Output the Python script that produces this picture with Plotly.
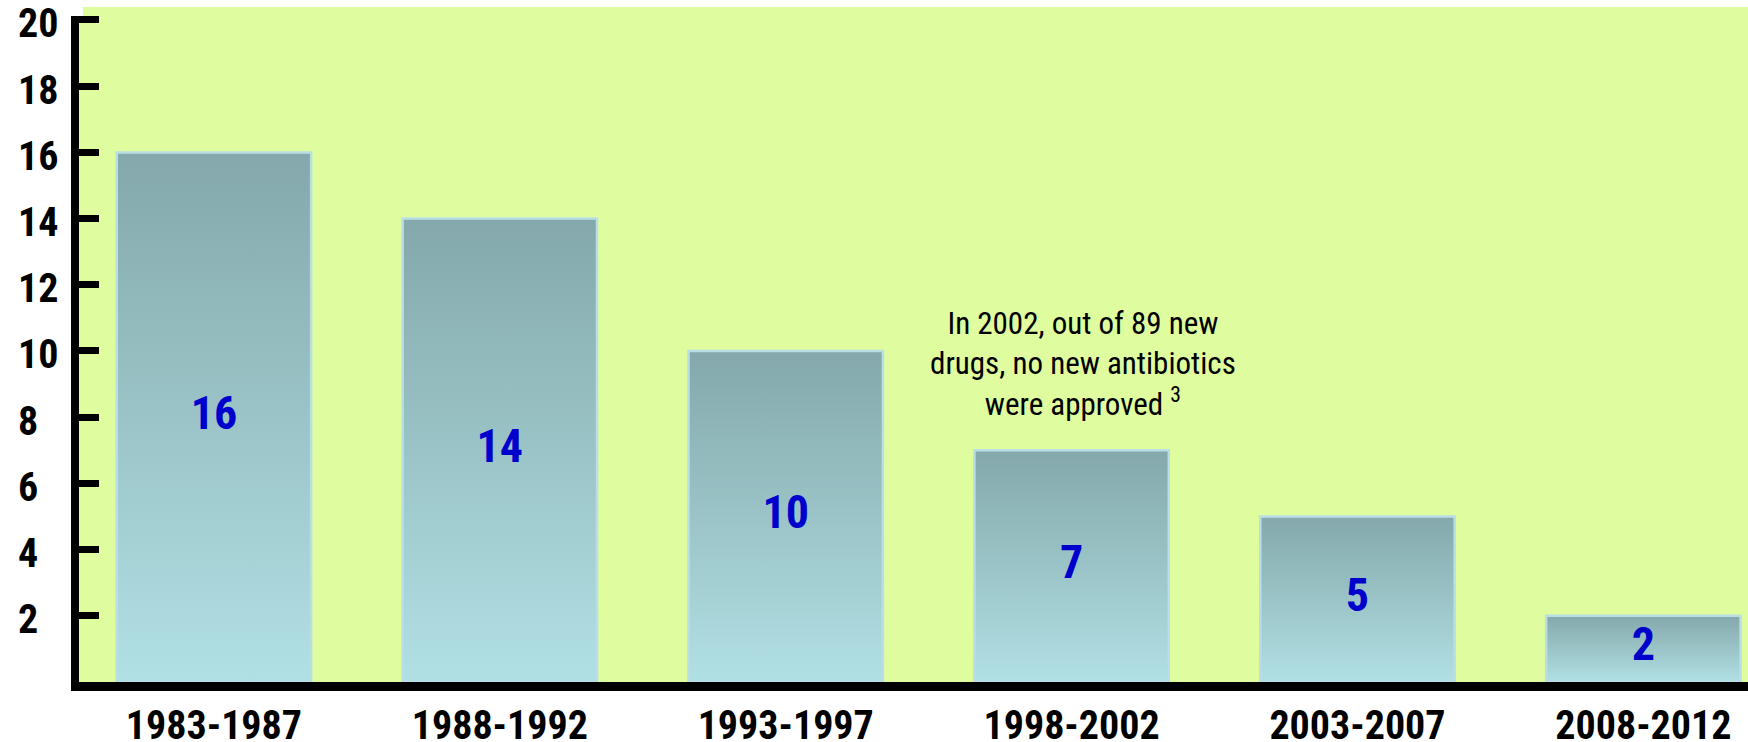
import plotly.graph_objects as go

# New antibacterial agents approved per five-year period
periods = ["1983-1987", "1988-1992", "1993-1997", "1998-2002", "2003-2007", "2008-2012"]
approvals = [16, 14, 10, 7, 5, 2]
y_ticks = [2, 4, 6, 8, 10, 12, 14, 16, 18, 20]

note_text = "In 2002, out of 89 new<br>drugs, no new antibiotics<br>were approved <sup>3</sup>"

NARROW = "Liberation Sans Narrow, Arial Narrow, Roboto Condensed, DejaVu Sans Condensed, sans-serif"
BG_GREEN = "#dffd9e"
BAR_TOP = "#84a8ab"
BAR_BOTTOM = "#b1e0e4"
BAR_EDGE = "#b9dee6"
HALF_W = 0.34

fig = go.Figure()

# Bars as filled outlines so each one can carry its own vertical gradient
for i, v in enumerate(approvals):
    fig.add_trace(go.Scatter(
        x=[i - HALF_W, i - HALF_W, i + HALF_W, i + HALF_W, i - HALF_W],
        y=[0, v, v, 0, 0],
        mode="lines",
        fill="toself",
        fillgradient=dict(type="vertical", colorscale=[[0, BAR_BOTTOM], [1, BAR_TOP]], start=0, stop=v),
        line=dict(color=BAR_EDGE, width=2.5),
        hoverinfo="skip",
        showlegend=False,
    ))

# Value labels in the middle of each bar
fig.add_trace(go.Scatter(
    x=list(range(len(approvals))),
    y=[v / 2 for v in approvals],
    mode="text",
    text=[str(v) for v in approvals],
    textposition="middle center",
    textfont=dict(family=NARROW, size=46, color="#0000cc", weight="bold"),
    hoverinfo="skip",
    showlegend=False,
))

# Left-aligned y tick labels
for t in y_ticks:
    fig.add_annotation(
        x=-0.0378, xref="paper", xanchor="left",
        y=t, yref="y", yanchor="middle", yshift=-4,
        text=str(t), showarrow=False,
        font=dict(family=NARROW, size=40, color="black", weight="bold"),
    )

fig.add_annotation(
    x=3.04, xref="x", y=9.6, yref="y",
    text=note_text, showarrow=False, align="center",
    font=dict(family=NARROW, size=31, color="black"),
)

# Green band just above the plotting area
fig.add_shape(
    type="rect", xref="paper", yref="paper",
    x0=0.0024, x1=1, y0=0.99, y1=1 + 9 / 666,
    fillcolor=BG_GREEN, line=dict(width=0), layer="below",
)

fig.update_layout(
    width=1748, height=742,
    margin=dict(l=79, r=0, t=16, b=60, autoexpand=False),
    paper_bgcolor="white",
    plot_bgcolor=BG_GREEN,
    xaxis=dict(
        range=[-0.472, 5.366],
        tickvals=list(range(len(periods))),
        ticktext=periods,
        tickfont=dict(family=NARROW, size=40, color="black", weight="bold"),
        showline=True, linecolor="black", linewidth=9,
        showgrid=False, zeroline=False, ticks="",
        ticklabelstandoff=0,
        automargin=False,
    ),
    yaxis=dict(
        range=[0, 20.12],
        tickvals=y_ticks,
        showticklabels=False,
        ticks="inside", ticklen=20, tickwidth=7, tickcolor="black",
        showline=True, linecolor="black", linewidth=8,
        showgrid=False, zeroline=False,
        automargin=False,
    ),
)

fig.write_html("out.html")
